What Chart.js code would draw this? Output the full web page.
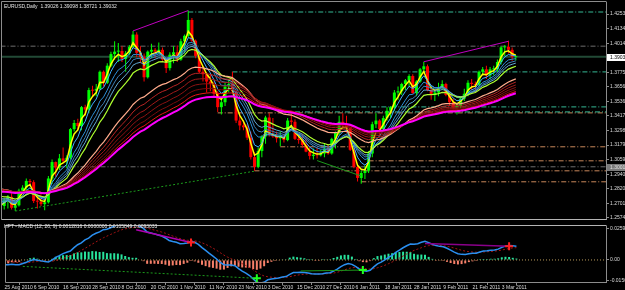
<!DOCTYPE html>
<html>
<head>
<meta charset="utf-8">
<script src="https://cdn.jsdelivr.net/npm/chart.js@4.4.1/dist/chart.umd.min.js"></script>
<style>
  html, body { margin: 0; padding: 0; background: #000; }
  #wrap { position: relative; width: 625px; height: 290px; overflow: hidden; background: #000; }
  #main { position: absolute; left: 0; top: 0; }
  #macd { position: absolute; left: 0; top: 220px; }
  .lbl { position: absolute; font: 5px "Liberation Sans", Arial, sans-serif; color: #e6e6e6; white-space: nowrap; }
</style>
</head>
<body>
<div id="wrap">
  <canvas id="main" width="625" height="220"></canvas>
  <canvas id="macd" width="625" height="70"></canvas>
  <div class="lbl" style="left:4px; top:3px">EURUSD,Daily&nbsp; 1.39026 1.39098 1.38721 1.39032</div>
  <div class="lbl" style="left:4px; top:223px">HPT - MACD (12, 26, 9) 0.0012816 0.0000000 0.0105849 0.0093033</div>
</div>
<script>
// EURUSD daily, 25 Aug 2010 .. 9 Mar 2011 (bar index 0..140)
const opens = [
  1.2655,1.2680,1.2730,1.2755,1.2665,1.2685,1.2805,1.2830,1.2885,1.2875,
  1.2720,1.2715,1.2695,1.2710,1.2905,1.3040,1.2995,1.3070,1.3050,1.3075,
  1.3310,1.3360,1.3335,1.3490,1.3470,1.3630,1.3625,1.3640,1.3780,1.3690,
  1.3830,1.3925,1.3945,1.3950,1.3885,1.3930,1.3985,1.4085,1.3935,1.3900,
  1.3735,1.3945,1.3960,1.3945,1.3960,1.3880,1.3810,1.3920,1.3940,1.3880,
  1.4030,1.4075,1.4205,1.4035,1.3910,1.3780,1.3760,1.3700,1.3680,1.3600,
  1.3490,1.3530,1.3660,1.3680,1.3620,1.3380,1.3340,1.3325,1.3240,1.3080,
  1.3000,1.3130,1.3250,1.3405,1.3265,1.3250,1.3235,1.3250,1.3220,1.3380,
  1.3370,1.3230,1.3220,1.3180,1.3125,1.3090,1.3100,1.3095,1.3110,1.3150,
  1.3110,1.3230,1.3280,1.3370,1.3350,1.3320,1.3140,1.3000,1.2910,1.2950,
  1.2970,1.3110,1.3350,1.3380,1.3310,1.3400,1.3460,1.3490,1.3610,1.3620,
  1.3680,1.3710,1.3745,1.3605,1.3700,1.3800,1.3825,1.3630,1.3590,1.3610,
  1.3650,1.3680,1.3590,1.3530,1.3490,1.3500,1.3560,1.3600,1.3690,1.3680,
  1.3670,1.3780,1.3800,1.3750,1.3800,1.3800,1.3860,1.3980,1.3985,1.3960,
  1.39026
];
const highs = [
  1.2705,1.2745,1.2770,1.2785,1.2720,1.2820,1.2850,1.2905,1.2900,1.2890,
  1.2760,1.2775,1.2730,1.2925,1.3060,1.3045,1.3105,1.3160,1.3095,1.3320,
  1.3385,1.3395,1.3500,1.3510,1.3650,1.3665,1.3680,1.3790,1.3790,1.3850,
  1.3945,1.4030,1.4015,1.3990,1.3950,1.4000,1.4115,1.4105,1.3990,1.3930,
  1.3955,1.4010,1.3975,1.4020,1.3980,1.3890,1.3940,1.3990,1.3995,1.4050,
  1.4085,1.4282,1.4220,1.4045,1.3950,1.3825,1.3775,1.3760,1.3700,1.3620,
  1.3570,1.3690,1.3720,1.3780,1.3630,1.3420,1.3380,1.3350,1.3290,1.3120,
  1.3160,1.3260,1.3420,1.3440,1.3400,1.3290,1.3290,1.3270,1.3400,1.3440,
  1.3390,1.3270,1.3270,1.3240,1.3170,1.3150,1.3160,1.3140,1.3190,1.3180,
  1.3240,1.3290,1.3420,1.3440,1.3420,1.3330,1.3150,1.3020,1.2970,1.3010,
  1.3130,1.3370,1.3440,1.3390,1.3420,1.3490,1.3500,1.3630,1.3660,1.3690,
  1.3720,1.3760,1.3760,1.3710,1.3810,1.3862,1.3840,1.3660,1.3640,1.3690,
  1.3710,1.3690,1.3610,1.3560,1.3520,1.3580,1.3640,1.3710,1.3720,1.3700,
  1.3790,1.3820,1.3830,1.3820,1.3830,1.3880,1.3990,1.4000,1.4034,1.3980,
  1.39098
];
const lows = [
  1.2590,1.2650,1.2660,1.2650,1.2638,1.2675,1.2780,1.2800,1.2840,1.2705,
  1.2660,1.2680,1.2645,1.2700,1.2860,1.2920,1.2975,1.3030,1.2990,1.3060,
  1.3290,1.3300,1.3300,1.3420,1.3440,1.3580,1.3580,1.3630,1.3660,1.3680,
  1.3820,1.3880,1.3860,1.3860,1.3780,1.3915,1.3975,1.3900,1.3850,1.3700,
  1.3725,1.3890,1.3890,1.3925,1.3870,1.3770,1.3790,1.3850,1.3860,1.3870,
  1.3930,1.4060,1.4020,1.3890,1.3770,1.3700,1.3610,1.3620,1.3570,1.3450,
  1.3430,1.3500,1.3610,1.3610,1.3360,1.3300,1.3300,1.3220,1.3060,1.2969,
  1.2990,1.3080,1.3190,1.3250,1.3240,1.3200,1.3170,1.3200,1.3210,1.3350,
  1.3220,1.3190,1.3160,1.3120,1.3060,1.3060,1.3070,1.3085,1.3080,1.3100,
  1.3100,1.3150,1.3260,1.3320,1.3280,1.3130,1.2990,1.2880,1.2862,1.2900,
  1.2950,1.3080,1.3320,1.3250,1.3290,1.3380,1.3400,1.3460,1.3550,1.3590,
  1.3630,1.3660,1.3600,1.3580,1.3690,1.3770,1.3620,1.3550,1.3540,1.3580,
  1.3630,1.3580,1.3500,1.3450,1.3430,1.3480,1.3540,1.3580,1.3630,1.3610,
  1.3660,1.3750,1.3720,1.3720,1.3750,1.3780,1.3840,1.3910,1.3930,1.3870,
  1.38721
];
const closes = [
  1.2680,1.2730,1.2755,1.2665,1.2685,1.2805,1.2830,1.2885,1.2875,1.2720,
  1.2715,1.2695,1.2710,1.2905,1.3040,1.2995,1.3070,1.3050,1.3075,1.3310,
  1.3360,1.3335,1.3490,1.3470,1.3630,1.3625,1.3640,1.3780,1.3690,1.3830,
  1.3925,1.3945,1.3950,1.3885,1.3930,1.3985,1.4085,1.3935,1.3900,1.3735,
  1.3945,1.3960,1.3945,1.3960,1.3880,1.3810,1.3920,1.3940,1.3880,1.4030,
  1.4075,1.4205,1.4035,1.3910,1.3780,1.3760,1.3700,1.3680,1.3600,1.3490,
  1.3530,1.3660,1.3680,1.3620,1.3380,1.3340,1.3325,1.3240,1.3080,1.3000,
  1.3130,1.3250,1.3405,1.3265,1.3250,1.3235,1.3250,1.3220,1.3380,1.3370,
  1.3230,1.3220,1.3180,1.3125,1.3090,1.3100,1.3095,1.3110,1.3150,1.3110,
  1.3230,1.3280,1.3370,1.3350,1.3320,1.3140,1.3000,1.2910,1.2950,1.2970,
  1.3110,1.3350,1.3380,1.3310,1.3400,1.3460,1.3490,1.3610,1.3620,1.3680,
  1.3710,1.3745,1.3605,1.3700,1.3800,1.3825,1.3630,1.3590,1.3610,1.3650,
  1.3680,1.3590,1.3530,1.3490,1.3500,1.3560,1.3600,1.3690,1.3680,1.3670,
  1.3780,1.3800,1.3750,1.3800,1.3800,1.3860,1.3980,1.3985,1.3960,1.3903,
  1.39032
];

// date labels on the bottom axis, one every 8 bars
const dateLabels = ['25 Aug 2010','6 Sep 2010','16 Sep 2010','28 Sep 2010','8 Oct 2010','20 Oct 2010',
  '1 Nov 2010','11 Nov 2010','23 Nov 2010','3 Dec 2010','15 Dec 2010','27 Dec 2010','6 Jan 2011',
  '18 Jan 2011','28 Jan 2011','9 Feb 2011','21 Feb 2011','3 Mar 2011'];
const dateTickIndex = dateLabels.map((_, i) => i * 8);

// price scale labels
const priceTickValues = [1.42535,1.41340,1.40145,1.38950,1.37755,1.36560,1.35365,1.34175,1.32980,1.31790,1.30595,1.29400,1.28205,1.27010,1.25815];
const priceTickLabels = ['1.42535','1.41340','1.40145','1.38950','1.37755','1.36560','1.35365','1.34175','1.32980','1.31790','1.30595','1.29400','1.28205','1.27010','1.25740'];

// moving average ribbon: periods and their value just before the first bar
const emaPeriods = [3, 5, 8, 10, 12, 15, 30, 35, 40, 45, 50, 55, 60];
const emaStart   = [1.2690, 1.2705, 1.2725, 1.2738, 1.2750, 1.2770, 1.2829, 1.2825, 1.2820, 1.2815, 1.2810, 1.2806, 1.2802];

// MACD (12, 26, 9)
const macdSlowStart = 1.2785;
const signalStart = 0.0005;
const macdTickValues = [0.0238, 0, -0.0154];
const macdTickLabels = ['0.025940', '0.00', '-0.015080'];

// horizontal levels: price, first bar, kind
const levelPrices = [1.4270, 1.3990, 1.3779, 1.3492, 1.3451, 1.3443, 1.3165, 1.3050, 1.3001, 1.2968, 1.2878];
const levelFrom   = [51, 0, 63, 79, 80, 59, 76, 100, 0, 69, 98];
const levelKinds  = ['res', 'grey', 'res', 'res', 'res', 'sup', 'sup', 'sup', 'grey', 'sup', 'sup'];

// divergence lines [bar, value] pairs
const priceDivBear1 = [[36, 1.4115], [51, 1.4282]];
const priceDivBear2 = [[115, 1.3862], [138, 1.4030]];
const priceDivBull1 = [[4, 1.2638], [69, 1.2965]];
const priceDivBull2 = [[86, 1.3052], [98, 1.2925]];
const macdDivBear1 = [[36, 0.0231], [51, 0.0133]];
const macdDivBear2 = [[115, 0.0126], [138, 0.0105]];
const macdDivBull1 = [[5, -0.0049], [69, -0.0140]];
const macdDivBull2 = [[81, -0.0084], [98, -0.0077]];
const sellMarks = [[51, 0.0133], [138, 0.0105]];
const buyMarks = [[69, -0.0140], [98, -0.0077]];

// ---------- layout ----------
const xMin = 0.4, xMax = 164.5;
const priceMin = 1.2573, priceMax = 1.4352;
const macdMin = -0.0168, macdMax = 0.0259;

const emaColors = ['#ffff00','#3fb0ff','#2e8fd6','#3f7fb5','#62a9d2','#adff2f',
  '#ffab8c','#b82424','#a01a1a','#8c1212','#7a0c0c','#e81414','#ff00ff'];
const emaWidths = [1.5, 1, 1, 1, 1, 1.2, 1.2, 1, 1, 1, 1, 1, 2];
const levelColors = { res: '#35b894', sup: '#c8875a', grey: '#6e6e6e' };

function ema(src, period, start) {
  const k = 2 / (period + 1);
  let prev = start;
  return src.map(v => (prev = prev + k * (v - prev)));
}
const pts = vals => vals.map((v, i) => ({ x: i, y: v }));
const pairs = arr => arr.map(p => ({ x: p[0], y: p[1] }));
function line(data, color, width, dash, order) {
  return { type: 'line', data, borderColor: color, borderWidth: width, borderDash: dash || [],
           pointRadius: 0, tension: 0, fill: false, order };
}

const bull = '#00ff00', bear = '#ff0000';
const candleColors = closes.map((c, i) => c >= opens[i] ? bull : bear);
const emaLines = emaPeriods.map((p, i) => ema(closes, p, emaStart[i]));

const macdMain = emaLines[emaPeriods.indexOf(12)].map((f, i) => f - ema(closes, 26, macdSlowStart)[i]);
const macdSignal = ema(macdMain, 9, signalStart);
const macdHist = macdMain.map((m, i) => m - macdSignal[i]);

// ---------- plugins ----------
const framePlugin = {
  id: 'frame',
  afterDraw(chart) {
    const o = chart.options.plugins.frame;
    const { ctx, chartArea: a } = chart;
    const L = a.left - 0.5, R = a.right + 0.5, T = a.top - 0.5, B = a.bottom + 0.5;
    ctx.save();
    ctx.lineWidth = 1;
    const seg = (x1, y1, x2, y2, c) => { ctx.strokeStyle = c; ctx.beginPath(); ctx.moveTo(x1, y1); ctx.lineTo(x2, y2); ctx.stroke(); };
    seg(L, T, R, T, o.top);
    seg(L, T, L, B, o.side);
    seg(L, B, R, B, o.bottom);
    ctx.restore();
  }
};
const boxPlugin = {
  id: 'priceBoxes',
  afterDraw(chart) {
    const boxes = chart.options.plugins.priceBoxes.boxes;
    const { ctx, chartArea: a } = chart;
    const ys = chart.scales.y;
    ctx.save();
    ctx.font = '5px "Liberation Sans", Arial, sans-serif';
    ctx.textBaseline = 'middle';
    boxes.forEach(b => {
      const y = Math.round(ys.getPixelForValue(b.price));
      ctx.fillStyle = b.bg;
      ctx.fillRect(a.right + 1, y - 3, 20, 7);
      ctx.fillStyle = b.fg;
      ctx.fillText(b.text, a.right + 4, y + 0.5);
    });
    ctx.restore();
  }
};

// ---------- main price chart ----------
const mainSets = [];
levelPrices.forEach((p, i) => {
  mainSets.push(line([{ x: levelFrom[i], y: p }, { x: xMax, y: p }], levelColors[levelKinds[i]], 1, [5, 2, 1, 2], 60));
});
mainSets.push(line([{ x: xMin, y: closes[closes.length - 1] }, { x: xMax, y: closes[closes.length - 1] }], '#224a36', 2, [], 58));
mainSets.push({ type: 'bar', data: closes.map((_, i) => ({ x: i, y: [lows[i], highs[i]] })),
  backgroundColor: candleColors, barThickness: 1, grouped: false, inflateAmount: 0, order: 45 });
mainSets.push({ type: 'bar', data: closes.map((_, i) => ({ x: i, y: [opens[i], closes[i]] })),
  backgroundColor: candleColors, barThickness: 3, grouped: false, inflateAmount: 0, minBarLength: 1, order: 44 });
emaPeriods.forEach((p, i) => {
  mainSets.push(line(pts(emaLines[i]), emaColors[i], emaWidths[i], [], p === 60 ? 20 : 40 - i));
});
mainSets.push(line(pairs(priceDivBear1), '#c000c0', 1, [], 5));
mainSets.push(line(pairs(priceDivBear2), '#c000c0', 1, [], 5));
mainSets.push(line(pairs(priceDivBull1), '#1c9a1c', 1, [2, 2], 5));
mainSets.push(line(pairs(priceDivBull2), '#1c9a1c', 1, [], 5));

new Chart(document.getElementById('main'), {
  type: 'line',
  data: { datasets: mainSets },
  options: {
    responsive: false, animation: false, devicePixelRatio: 1,
    layout: { padding: { left: 2, top: 2, right: 0, bottom: 1 } },
    plugins: {
      legend: { display: false }, tooltip: { enabled: false },
      frame: { top: '#8c8c8c', side: '#8c8c8c', bottom: '#b4b4b4' },
      priceBoxes: { boxes: [
        { price: 1.39032, text: '1.39032', bg: '#ffffff', fg: '#000000' },
        { price: 1.3001, text: '1.30010', bg: '#7a7a7a', fg: '#e0e0e0' }
      ] }
    },
    scales: {
      x: { type: 'linear', min: xMin, max: xMax, display: false, offset: false, bounds: 'data' },
      y: {
        position: 'right', min: priceMin, max: priceMax, bounds: 'data',
        afterBuildTicks: s => { s.ticks = priceTickValues.map(v => ({ value: v })); },
        afterFit: s => { s.width = 19; s.paddingTop = 0; s.paddingBottom = 0; },
        ticks: { callback: (v, i) => priceTickLabels[i], color: '#dcdcdc', font: { size: 5, family: '"Liberation Sans", Arial, sans-serif' }, padding: 1, autoSkip: false },
        grid: { drawOnChartArea: false, drawTicks: true, tickLength: 3, color: '#8c8c8c' },
        border: { display: true, color: '#8c8c8c' }
      }
    }
  },
  plugins: [framePlugin, boxPlugin]
});

// ---------- MACD window ----------
const macdSets = [
  line([{ x: xMin, y: 0 }, { x: xMax, y: 0 }], '#b89a5a', 1, [1, 2], 50),
  { type: 'bar', data: pts(macdHist), backgroundColor: macdHist.map(v => v >= 0 ? '#28e39c' : '#f7806a'),
    barThickness: 2, grouped: false, inflateAmount: 0, order: 40 },
  line(pts(macdSignal), '#a81414', 1, [2, 2], 20),
  line(pts(macdMain), '#2a8ff0', 1.5, [], 10),
  line(pairs(macdDivBear1), '#b000b0', 1.5, [], 5),
  line(pairs(macdDivBear2), '#8a008a', 1.5, [], 5),
  line(pairs(macdDivBull1), '#1c9a1c', 1, [2, 2], 5),
  line(pairs(macdDivBull2), '#1c9a1c', 1, [], 5),
  { type: 'line', data: pairs(sellMarks), showLine: false, pointStyle: 'cross', pointRadius: 4,
    pointBorderWidth: 2, pointBorderColor: '#ff2020', order: 1 },
  { type: 'line', data: pairs(buyMarks), showLine: false, pointStyle: 'cross', pointRadius: 4,
    pointBorderWidth: 2, pointBorderColor: '#20ff20', order: 1 }
];

new Chart(document.getElementById('macd'), {
  type: 'line',
  data: { datasets: macdSets },
  options: {
    responsive: false, animation: false, devicePixelRatio: 1,
    layout: { padding: { left: 2, top: 1, right: 0, bottom: 0 } },
    plugins: {
      legend: { display: false }, tooltip: { enabled: false },
      frame: { top: '#b4b4b4', side: '#8c8c8c', bottom: '#8c8c8c' }
    },
    scales: {
      x: {
        type: 'linear', min: xMin, max: xMax, offset: false, bounds: 'data',
        afterBuildTicks: s => { s.ticks = dateTickIndex.map(v => ({ value: v })); },
        afterFit: s => { s.height = 8; s.paddingLeft = 0; s.paddingRight = 0; },
        ticks: { callback: (v, i) => dateLabels[i], align: 'start', autoSkip: false, maxRotation: 0, minRotation: 0,
                 padding: 0, color: '#dcdcdc', font: { size: 5, family: '"Liberation Sans", Arial, sans-serif' } },
        grid: { drawOnChartArea: false, drawTicks: true, tickLength: 3, color: '#8c8c8c' },
        border: { display: true, color: '#8c8c8c' }
      },
      y: {
        position: 'right', min: macdMin, max: macdMax, bounds: 'data',
        afterBuildTicks: s => { s.ticks = macdTickValues.map(v => ({ value: v })); },
        afterFit: s => { s.width = 19; s.paddingTop = 0; s.paddingBottom = 0; },
        ticks: { callback: (v, i) => macdTickLabels[i], color: '#dcdcdc', font: { size: 5, family: '"Liberation Sans", Arial, sans-serif' }, padding: 1, autoSkip: false },
        grid: { drawOnChartArea: false, drawTicks: true, tickLength: 3, color: '#8c8c8c' },
        border: { display: true, color: '#8c8c8c' }
      }
    }
  },
  plugins: [framePlugin]
});
</script>
</body>
</html>
